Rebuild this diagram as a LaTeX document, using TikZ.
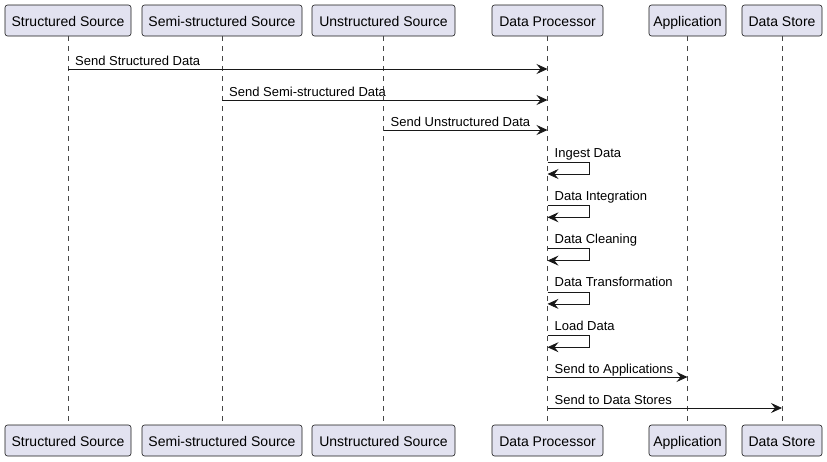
\documentclass[tikz,border=0pt]{standalone}
\usepackage{fontspec}
\setmainfont{Liberation Sans}
\usetikzlibrary{arrows.meta,calc}
\definecolor{pfill}{HTML}{E2E2F0}
\definecolor{pline}{HTML}{181818}
\begin{document}
\begin{tikzpicture}[x=1pt,y=-1pt,
 part/.style={draw=pline,fill=pfill,rounded corners=2.5pt,line width=0.6pt,minimum height=31pt,inner xsep=0pt,text height=12pt,text depth=1pt,font=\fontsize{14}{16}\selectfont},
 life/.style={draw=pline!80,line width=0.5pt,dash pattern=on 5pt off 5pt},
 msg/.style={draw=pline,line width=0.8pt,-{Stealth[length=11pt,width=10pt,inset=4pt]}},
 lbl/.style={font=\fontsize{13}{15}\selectfont,anchor=base west,inner sep=0pt}]
\useasboundingbox (0,0) rectangle (827,461);
% participants top
\node[part,minimum width=126pt] (s1) at (68,20.5) {Structured Source};
\node[part,minimum width=160pt] (s2) at (222,20.5) {Semi-structured Source};
\node[part,minimum width=143pt] (s3) at (383.5,20.5) {Unstructured Source};
\node[part,minimum width=111pt] (dp) at (547.5,20.5) {Data Processor};
\node[part,minimum width=77pt] (ap) at (687.5,20.5) {Application};
\node[part,minimum width=80pt] (ds) at (782,20.5) {Data Store};
% participants bottom
\node[part,minimum width=126pt] (s1b) at (68,440.5) {Structured Source};
\node[part,minimum width=160pt] (s2b) at (222,440.5) {Semi-structured Source};
\node[part,minimum width=143pt] (s3b) at (383.5,440.5) {Unstructured Source};
\node[part,minimum width=111pt] (dpb) at (547.5,440.5) {Data Processor};
\node[part,minimum width=77pt] (apb) at (687.5,440.5) {Application};
\node[part,minimum width=80pt] (dsb) at (782,440.5) {Data Store};
% lifelines
\foreach \t/\b in {s1/s1b,s2/s2b,s3/s3b,dp/dpb,ap/apb,ds/dsb}
  \draw[life] (\t.south) -- (\b.north);
% messages between lifelines
\foreach \src/\dst/\y/\txt in {s1/dp/69/Send Structured Data, s2/dp/100/Send Semi-structured Data, s3/dp/130/Send Unstructured Data, dp/ap/377/Send to Applications, dp/ds/408/Send to Data Stores}{
  \coordinate (a) at (\src.south |- 0,\y);
  \coordinate (b) at (\dst.south |- 0,\y);
  \draw[msg] (a) -- (b);
  \node[lbl] (l) at ($(a)+(7,-4)$) {\txt};
}
% self messages
\foreach \y/\txt in {162/Ingest Data, 205.3/Data Integration, 248.6/Data Cleaning, 291.9/Data Transformation, 335.2/Load Data}{
  \coordinate (a) at (dp.south |- 0,\y);
  \coordinate (c) at ($(a)+(0,12)$);
  \draw[msg] (a) -- ++(41.5,0) -- ++(0,12) -- (c);
  \node[lbl] (l) at ($(a)+(7,-5)$) {\txt};
}
\end{tikzpicture}
\end{document}
